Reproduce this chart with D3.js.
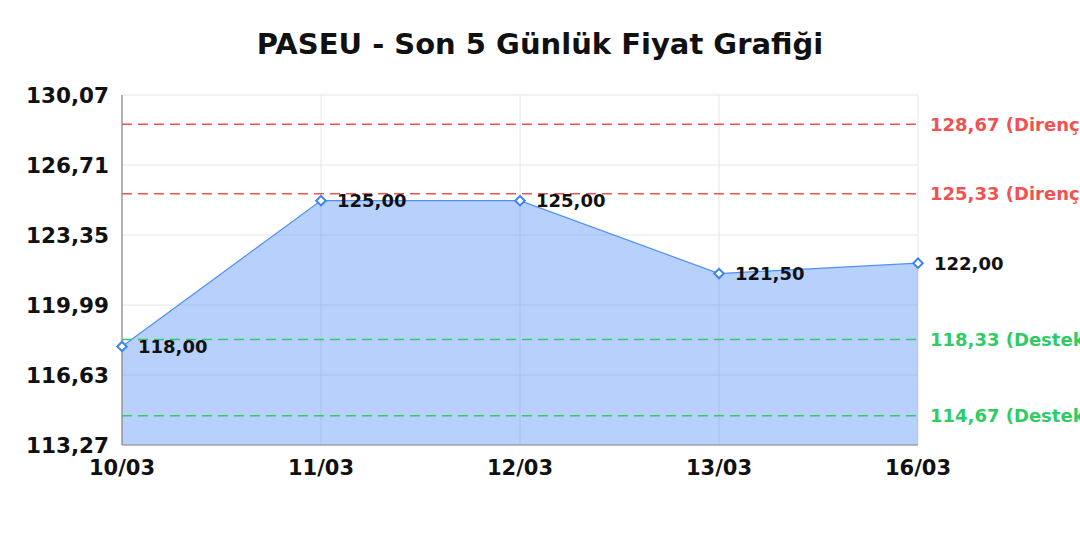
<!DOCTYPE html>
<html>
<head>
<meta charset="utf-8">
<script src="https://cdn.jsdelivr.net/npm/d3@7"></script>
<style>
  body { margin: 0; background: #fff; }
  svg text { font-family: "DejaVu Sans", sans-serif; font-weight: bold; }
</style>
</head>
<body>
<div id="chart"></div>
<script>
// data
var days = ["10/03", "11/03", "12/03", "13/03", "16/03"];
var prices = [118.00, 125.00, 125.00, 121.50, 122.00];
var yTicks = [113.27, 116.63, 119.99, 123.35, 126.71, 130.07];
var resistLevels = [128.67, 125.33];
var supportLevels = [118.33, 114.67];

var width = 1080, height = 540;
var plotLeft = 122, plotRight = 918, plotTop = 95, plotBottom = 445;

var svg = d3.select("#chart")
        .append("svg")
        .attr("width", width)
        .attr("height", height);

var x = d3.scalePoint().domain(days).range([plotLeft, plotRight]);
var y = d3.scaleLinear().domain([yTicks[0], yTicks[yTicks.length - 1]]).range([plotBottom, plotTop]);

function fmt(v) { return v.toFixed(2).replace(".", ","); }

// title
svg.append("text")
    .attr("x", 540).attr("y", 54)
    .attr("text-anchor", "middle")
    .style("font-size", "29px")
    .attr("fill", "#111")
    .text("PASEU - Son 5 Günlük Fiyat Grafiği");

// grid
svg.append("g").selectAll("line").data(yTicks).enter().append("line")
    .attr("x1", plotLeft).attr("x2", plotRight)
    .attr("y1", d => y(d)).attr("y2", d => y(d))
    .attr("stroke", "#e6e6e6").attr("stroke-width", 1);
svg.append("g").selectAll("line").data(days).enter().append("line")
    .attr("x1", d => x(d)).attr("x2", d => x(d))
    .attr("y1", plotTop).attr("y2", plotBottom)
    .attr("stroke", "#e6e6e6").attr("stroke-width", 1);

// area + line
var pts = days.map((d, i) => [d, prices[i]]);
svg.append("path")
    .datum(pts)
    .attr("d", d3.area().x(d => x(d[0])).y0(plotBottom).y1(d => y(d[1])))
    .attr("fill", "rgba(59,130,246,0.37)");
svg.append("path")
    .datum(pts)
    .attr("d", d3.line().x(d => x(d[0])).y(d => y(d[1])))
    .attr("fill", "none")
    .attr("stroke", "#4f8ff7")
    .attr("stroke-width", 1.2);

// reference lines
function levelLines(levels, color, word) {
    var g = svg.append("g");
    g.selectAll("line").data(levels).enter().append("line")
        .attr("x1", plotLeft).attr("x2", plotRight)
        .attr("y1", d => y(d)).attr("y2", d => y(d))
        .attr("stroke", color).attr("stroke-width", 1.5)
        .attr("stroke-dasharray", "10,6");
    g.selectAll("text").data(levels).enter().append("text")
        .attr("x", 930).attr("y", d => y(d) + 1.5)
        .attr("dominant-baseline", "middle")
        .style("font-size", "18px")
        .attr("fill", color)
        .text(d => fmt(d) + " (" + word + ")");
}
levelLines(resistLevels, "#f05252", "Direnç");
levelLines(supportLevels, "#2fcc66", "Destek");

// axes lines
svg.append("line").attr("x1", plotLeft).attr("x2", plotLeft).attr("y1", plotTop).attr("y2", plotBottom)
    .attr("stroke", "#888").attr("stroke-width", 1.2);
svg.append("line").attr("x1", plotLeft).attr("x2", plotRight).attr("y1", plotBottom).attr("y2", plotBottom)
    .attr("stroke", "#888").attr("stroke-width", 1.2);

// tick labels
svg.append("g").selectAll("text").data(yTicks).enter().append("text")
    .attr("x", 109).attr("y", d => y(d) + 1.5)
    .attr("text-anchor", "end")
    .attr("dominant-baseline", "middle")
    .style("font-size", "21.5px")
    .attr("fill", "#111")
    .text(fmt);
svg.append("g").selectAll("text").data(days).enter().append("text")
    .attr("x", d => x(d)).attr("y", 475)
    .attr("text-anchor", "middle")
    .style("font-size", "21px")
    .attr("fill", "#111")
    .text(d => d);

// markers + value labels
svg.append("g").selectAll("path").data(pts).enter().append("path")
    .attr("d", d3.symbol().type(d3.symbolSquare).size(45))
    .attr("transform", d => "translate(" + x(d[0]) + "," + y(d[1]) + ") rotate(45)")
    .attr("fill", "#fff")
    .attr("stroke", "#3b82f6")
    .attr("stroke-width", 2);
svg.append("g").selectAll("text").data(pts).enter().append("text")
    .attr("x", d => x(d[0]) + 16).attr("y", d => y(d[1]) + 1.5)
    .attr("dominant-baseline", "middle")
    .style("font-size", "18px")
    .attr("fill", "#111")
    .text(d => fmt(d[1]));
</script>
</body>
</html>
